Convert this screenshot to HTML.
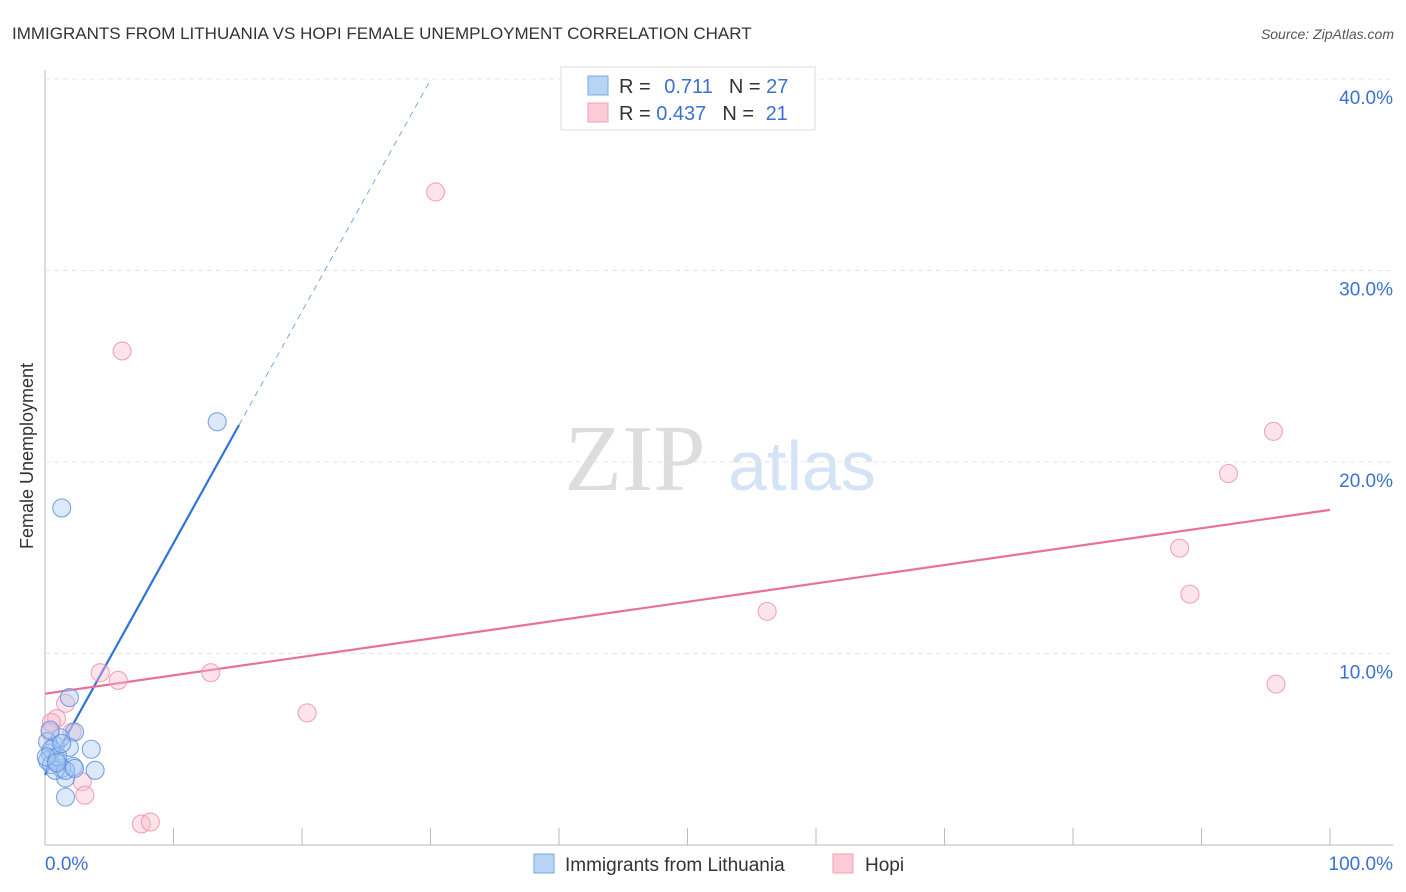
<!DOCTYPE html>
<html><head><meta charset="utf-8"><style>
body{margin:0;background:#fff;font-family:"Liberation Sans",sans-serif;}
svg{display:block}
</style></head><body>
<svg id="c" width="1406" height="892">
<text x="12" y="39" font-size="17" fill="#333">IMMIGRANTS FROM LITHUANIA VS HOPI FEMALE UNEMPLOYMENT CORRELATION CHART</text>
<text x="1394" y="39" font-size="14" fill="#555" font-style="italic" text-anchor="end">Source: ZipAtlas.com</text>
<text x="0" y="0" transform="translate(33,456) rotate(-90)" font-size="18" fill="#333" text-anchor="middle">Female Unemployment</text>
<g><text x="635" y="490" font-size="94" fill="#ddd" font-family="Liberation Serif" text-anchor="middle">ZIP</text><text x="802" y="490" font-size="70" fill="#d4e3f5" text-anchor="middle">atlas</text></g>
<g id="grid"></g><g id="ticks"></g><g id="lines"></g><g id="pts"></g>
<g>
<rect x="561" y="67" width="254" height="63" fill="#fff" stroke="#ddd"/>
<rect x="588" y="76" width="20" height="19" fill="#b8d4f5" stroke="#7aa8e6"/>
<rect x="588" y="103" width="20" height="19" fill="#fccbd8" stroke="#f0a0b8"/>
<text x="619" y="93" font-size="20" fill="#333">R = <tspan fill="#3a72d0" dx="8">0.711</tspan><tspan dx="16" fill="#333">N = </tspan><tspan fill="#3a72d0">27</tspan></text>
<text x="619" y="120" font-size="20" fill="#333">R = <tspan fill="#3a72d0">0.437</tspan><tspan dx="16" fill="#333">N = </tspan><tspan fill="#3a72d0" dx="6">21</tspan></text>
</g>
<g>
<rect x="534" y="854" width="20" height="19" fill="#b8d4f5" stroke="#7aa8e6"/>
<text x="565" y="871" font-size="19" fill="#333">Immigrants from Lithuania</text>
<rect x="833" y="854" width="20" height="19" fill="#fccbd8" stroke="#f0a0b8"/>
<text x="865" y="871" font-size="19" fill="#333">Hopi</text>
</g>
</svg>
<script>
const yTicks=[10,20,30,40];
const yTickLabels=["10.0%","20.0%","30.0%","40.0%"];
const xTickLabels=["0.0%","100.0%"];
const blueX=[13.4,1.3,1.9,3.6,3.9,2.3,1.9,1.6,1.6,2.2,1.3,0.8,0.4,0.2,0.5,0.9,1.2,0.2,0.8,1.6,2.3,0.5,1.0,0.1,0.4,1.3,0.9];
const blueY=[22.1,17.6,7.7,5.0,3.9,5.9,5.1,2.5,3.5,4.1,4.0,5.2,4.8,4.4,4.2,4.4,5.6,5.4,3.9,3.9,4.0,5.0,4.6,4.6,6.0,5.3,4.3];
const pinkX=[30.4,6.0,95.6,92.1,88.3,89.1,56.2,95.8,4.3,12.9,5.7,20.4,1.6,0.9,0.5,2.1,2.9,3.1,7.5,8.2,0.4];
const pinkY=[34.1,25.8,21.6,19.4,15.5,13.1,12.2,8.4,9.0,9.0,8.6,6.9,7.4,6.6,6.4,5.9,3.3,2.6,1.1,1.2,5.9];
const blueFit=[3.66,1.21];
const pinkFit=[7.9,0.096];
const X=v=>45+v*12.85, Y=v=>845-v*19.15;
const NS="http://www.w3.org/2000/svg";
function mk(p,t,a){const e=document.createElementNS(NS,t);for(const k in a)e.setAttribute(k,a[k]);document.getElementById(p).appendChild(e);return e;}
let e=mk("grid","line",{x1:45,y1:70,x2:45,y2:845,stroke:"#bbb"});


e=mk("grid","line",{x1:45,y1:845,x2:1393,y2:845,stroke:"#bbb"});


yTicks.forEach((t,i)=>{
 let g=mk("grid","line",{x1:45,y1:Y(t),x2:1393,y2:Y(t),stroke:"#e4e4e4","stroke-dasharray":"5,4"});
 
 
 let l=mk("ticks","text",{x:1393,y:Y(t)+25,"font-size":19,fill:"#3a72d0","text-anchor":"end"});
 l.textContent=yTickLabels[i];
 
 
});
for(let i=0;i<=10;i++){
 let t=mk("ticks","line",{x1:X(i*10),y1:845,x2:X(i*10),y2:828,stroke:"#bbb"});
 
 
}
[[0,"start",45],[100,"end",1393]].forEach((d,i)=>{
 let l=mk("ticks","text",{x:d[2],y:870,"font-size":19,fill:"#3a72d0","text-anchor":d[1]});
 l.textContent=xTickLabels[i];
 
 
});
function pts(xs,ys,fill,stroke,name){xs.forEach((x,i)=>{
 let c=mk("pts","circle",{cx:X(x),cy:Y(ys[i]),r:9,fill:fill,"fill-opacity":0.4,stroke:stroke,"stroke-width":1.1,"stroke-opacity":0.8});
 
 
});}
pts(pinkX,pinkY,"#f9b8ca","#ee90ad","hopi-point");
pts(blueX,blueY,"#a8c8f2","#5b8fdc","lithuania-point");
let xs=15.1, xe=(40-blueFit[0])/blueFit[1];
e=mk("lines","line",{x1:X(0),y1:Y(blueFit[0]),x2:X(xs),y2:Y(blueFit[0]+blueFit[1]*xs),stroke:"#2f74d8","stroke-width":2.2});


e=mk("lines","line",{x1:X(xs),y1:Y(blueFit[0]+blueFit[1]*xs),x2:X(xe),y2:Y(40),stroke:"#7aa8e6","stroke-width":1,"stroke-dasharray":"6,5"});


e=mk("lines","line",{x1:X(0),y1:Y(pinkFit[0]),x2:X(100),y2:Y(pinkFit[0]+pinkFit[1]*100),stroke:"#e8719a","stroke-width":2.2});


</script>
</body></html>
